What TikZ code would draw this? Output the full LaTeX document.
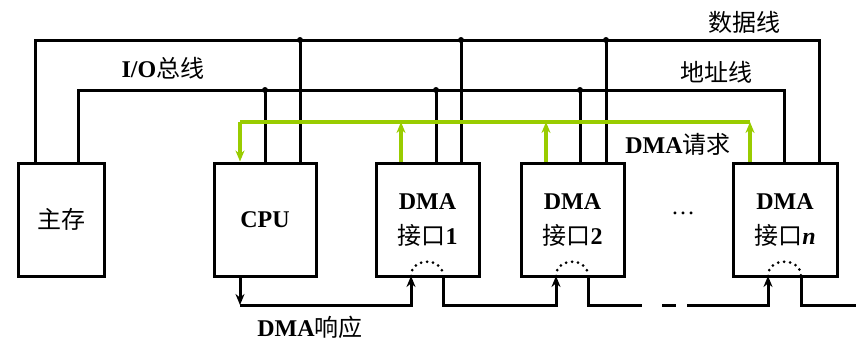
\documentclass[tikz,border=0pt]{standalone}
\usepackage{fontspec}
\setmainfont{Liberation Serif}
\newfontfamily\zhfont{Noto Sans CJK SC}
\newcommand{\zh}[1]{{\zhfont\mdseries #1}}
\definecolor{reqGreen}{RGB}{153,204,0}
\usepackage{tikz}
\usetikzlibrary{arrows.meta,positioning,calc}

\tikzset{
  unit/.style={draw, line width=3pt, minimum height=113pt, inner sep=0pt,
    font=\fontsize{24}{35}\selectfont\bfseries, align=center},
  bus/.style={line width=3pt},
  req/.style={draw=reqGreen, line width=3.5pt},
  joint/.style={circle, fill, inner sep=0pt, minimum size=6pt},
  lbl/.style={font=\fontsize{24}{28}\selectfont\bfseries, inner sep=0pt},
  tip/.style={-{Stealth[length=11pt,width=9pt]}},
}

\begin{document}
\begin{tikzpicture}[x=1pt,y=-1pt]
          \useasboundingbox (0,0) rectangle (856,340);
          % units
          \node[unit, minimum width=86pt] (mem) at (61,219.5) {\zh{主存}};
          \node[unit, minimum width=102pt] (cpu) at (265,219.5) {CPU};
          \node[unit, minimum width=103pt, text depth=-2pt] (dma1) at (427.5,219.5) {DMA\\\zh{接口}1};
          \node[unit, minimum width=103pt, text depth=-2pt] (dma2) at (572.5,219.5) {DMA\\\zh{接口}2};
          \node[unit, minimum width=104pt, text depth=-2pt] (disk) at (785,219.5) {DMA\\\zh{接口}\textit{n}};
          \node[lbl, font=\fontsize{24}{28}\selectfont] (dots) at (683,213) {\textellipsis};
          % data bus
          \coordinate (dL) at (35,40);
          \coordinate (dR) at (819,40);
          \draw[bus] (dL |- mem.north) -- (dL) -- (dR) -- (dR |- disk.north);
          \foreach \x/\u in {300/cpu, 461/dma1, 606/dma2} {
            \node[joint] (d\u) at (\x,40) {};
            \draw[bus] (d\u.center) -- (d\u.center |- \u.north);
          }
          % address bus
          \coordinate (aL) at (78,90);
          \coordinate (aR) at (784,90);
          \draw[bus] (aL |- mem.north) -- (aL) -- (aR) -- (aR |- disk.north);
          \foreach \x/\u in {265/cpu, 436/dma1, 580/dma2} {
            \node[joint] (a\u) at (\x,90) {};
            \draw[bus] (a\u.center) -- (a\u.center |- \u.north);
          }
          % DMA request
          \coordinate (gL) at (240,122);
          \coordinate (gR) at (750,122);
          \draw[req] (gL) -- (gR);
          \draw[req, tip] (gL) -- (gL |- cpu.north);
          \foreach \x/\u in {401/dma1, 546/dma2, 750/disk} {
            \coordinate (r\u) at (\x,122);
            \draw[req, tip] (r\u |- \u.north) -- (r\u);
          }
          % DMA acknowledge chain
          \coordinate (ack) at (240,305);
          \coordinate (in1) at (411,276);  \coordinate (out1) at (443,276);
          \coordinate (in2) at (556,276);  \coordinate (out2) at (588,276);
          \coordinate (inn) at (768,276);  \coordinate (outn) at (801,276);
          \coordinate (gap1) at (642,305); \coordinate (gap2) at (662,305);
          \coordinate (gap3) at (676,305); \coordinate (gap4) at (687,305);
          \coordinate (tail) at (856,305);
          \draw[bus, tip] (ack |- cpu.south) -- (ack);
          \draw[bus, tip] (ack) -| (in1);
          \draw[bus, tip] (out1) |- (ack -| in2) -- (in2);
          \draw[bus] (out2) |- (gap1);
          \draw[bus] (gap2) -- (gap3);
          \draw[bus, tip] (gap4) -| (inn);
          \draw[bus] (outn) |- (tail);
          \foreach \a/\b in {in1/out1, in2/out2, inn/outn}
            \draw[line width=3pt, line cap=round, dash pattern=on 0pt off 6pt] (\a) .. controls +(0,-19) and +(0,-19) .. (\b);
          % labels
          \node[lbl] (datalbl) at (744,22) {\zh{数据线}};
          \node[lbl] (addrlbl) at (716,72) {\zh{地址线}};
          \node[lbl] (buslbl) at (163,68) {I/O\zh{总线}};
          \node[lbl] (reqlbl) at (678,144) {DMA\zh{请求}};
          \node[lbl] (acklbl) at (310,327) {DMA\zh{响应}};
        \end{tikzpicture}
\end{document}
